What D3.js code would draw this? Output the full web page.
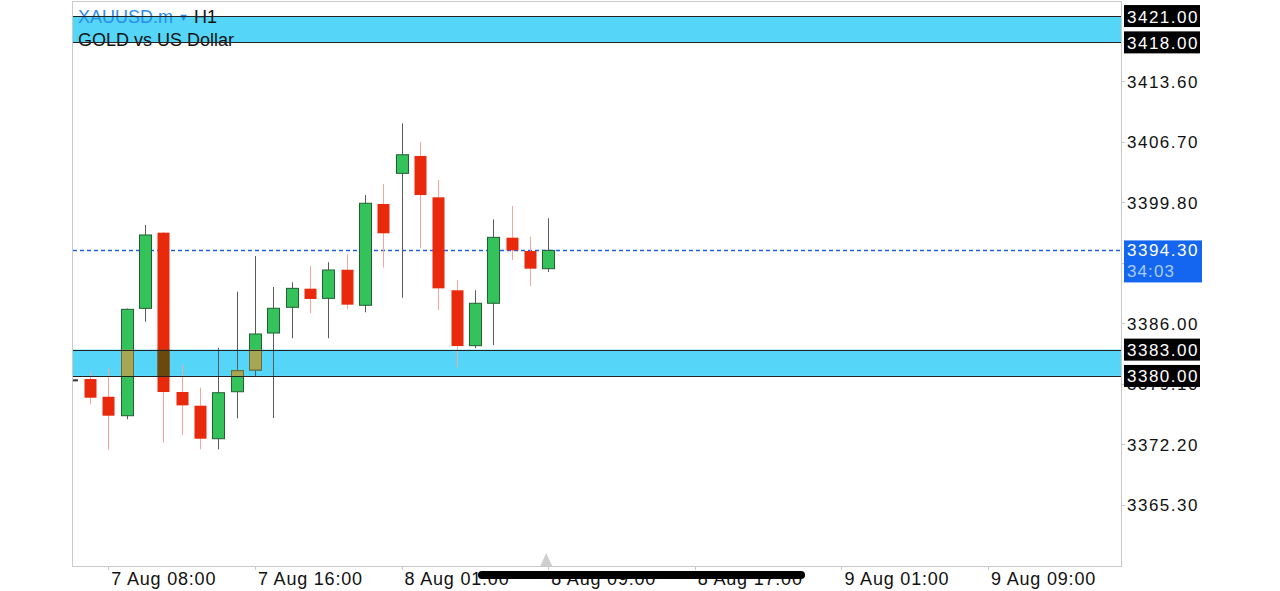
<!DOCTYPE html>
<html><head><meta charset="utf-8">
<script src="https://cdn.jsdelivr.net/npm/d3@7"></script>
<style>
html,body{margin:0;padding:0;background:#fff;}
svg text{font-family:"Liberation Sans",Arial,Helvetica,sans-serif;}
</style></head>
<body><svg id="c" width="1280" height="591"></svg>
<script>
// ---- data ----
const times = ["7 Aug 07:00","7 Aug 08:00","7 Aug 09:00","7 Aug 10:00","7 Aug 11:00","7 Aug 12:00","7 Aug 13:00","7 Aug 14:00","7 Aug 15:00","7 Aug 16:00","7 Aug 17:00","7 Aug 18:00","7 Aug 19:00","7 Aug 20:00","7 Aug 21:00","7 Aug 22:00","7 Aug 23:00","8 Aug 01:00","8 Aug 02:00","8 Aug 03:00","8 Aug 04:00","8 Aug 05:00","8 Aug 06:00","8 Aug 07:00","8 Aug 08:00","8 Aug 09:00"];
const open  = [3379.65,3377.63,3375.47,3387.70,3396.32,3378.17,3376.61,3372.85,3378.20,3380.68,3384.89,3387.82,3389.94,3388.84,3392.10,3388.05,3399.59,3403.08,3405.06,3400.35,3389.76,3383.45,3388.28,3395.75,3394.23,3392.22];
const high  = [3380.48,3380.87,3387.68,3397.20,3396.40,3381.25,3378.66,3383.22,3389.60,3393.66,3390.13,3390.67,3392.56,3392.95,3393.89,3400.61,3401.87,3408.78,3406.68,3402.32,3390.93,3389.76,3397.84,3399.36,3395.86,3397.96];
const low   = [3376.77,3371.56,3375.06,3386.18,3372.40,3373.27,3371.64,3371.64,3375.17,3380.00,3375.21,3384.29,3387.14,3384.29,3387.59,3387.25,3392.33,3388.91,3394.54,3387.51,3380.98,3383.15,3383.52,3393.21,3390.25,3391.84];
const close = [3377.52,3375.47,3387.59,3396.06,3378.17,3376.65,3372.85,3378.09,3380.60,3384.78,3387.71,3389.98,3388.77,3392.07,3388.12,3399.67,3396.25,3405.20,3400.61,3389.98,3383.41,3388.28,3395.79,3394.31,3392.22,3394.30];
const yTicks = [3413.60,3406.70,3399.80,3392.90,3386.00,3379.10,3372.20,3365.30];
const xTickLabels = ["7 Aug 08:00","7 Aug 16:00","8 Aug 01:00","8 Aug 09:00","8 Aug 17:00","9 Aug 01:00","9 Aug 09:00"];
const xTickIndex = [1,9,17,25,33,41,49];
const zones = [[3421.00,3418.00],[3383.00,3380.00]];
const currentPrice = 3394.30;
const timer = "34:03";
const symbol = "XAUUSD.m", timeframe = "H1", description = "GOLD vs US Dollar";

// ---- layout ----
const L=72, R=1121, T=1, B=566;
const svg = d3.select("#c");
const x = d3.scaleLinear().domain([-0.982, 56.25]).range([L, R]);
const y = d3.scaleLinear().domain([3358.35, 3422.6]).range([B, 2]);
const bw = 12;
const UP="#33c35a", UPL="#245f34", DN="#e8290c", UPW="#5b5b5b", DNW="#f4a89c";
const ZONE="#55d6f8", UPZ="#a6a655", DNZ="#6a4a0c";

const data = times.map((t,i)=>({t,i,o:open[i],h:high[i],l:low[i],c:close[i]}));

// frame
svg.append("rect").attr("x",L+0.5).attr("y",T+0.5).attr("width",R-L).attr("height",B-T)
  .attr("fill","#fff").attr("stroke","#c9c9c9");

// zones
svg.selectAll(".zone").data(zones).enter().append("rect")
  .attr("x",L+1).attr("width",R-L-1)
  .attr("y",d=>y(d[0])).attr("height",d=>y(d[1])-y(d[0]))
  .attr("fill",ZONE);

// clip for zone overlap
const defs = svg.append("defs");
const cp = defs.append("clipPath").attr("id","zclip");
cp.selectAll("rect").data(zones).enter().append("rect")
  .attr("x",L).attr("width",R-L)
  .attr("y",d=>y(d[0])).attr("height",d=>y(d[1])-y(d[0]));

// current price dashed line
svg.append("line").attr("x1",L+1).attr("x2",R).attr("y1",Math.round(y(currentPrice))+0.5).attr("y2",Math.round(y(currentPrice))+0.5)
  .attr("stroke","#1f5fe6").attr("stroke-width",1.3).attr("stroke-dasharray","4,3");

// wicks
svg.selectAll(".wick").data(data).enter().append("line")
  .attr("x1",d=>Math.round(x(d.i))+0.5).attr("x2",d=>Math.round(x(d.i))+0.5)
  .attr("y1",d=>y(d.h)).attr("y2",d=>y(d.l))
  .attr("stroke",d=>d.c>=d.o?UPW:DNW).attr("stroke-width",1);

// bodies
function bodies(g, fillUp, fillDn, strokeUp){
  g.selectAll("rect").data(data).enter().append("rect")
   .attr("x",d=>Math.round(x(d.i))-bw/2+0.5)
   .attr("width",bw)
   .attr("y",d=>y(Math.max(d.o,d.c)))
   .attr("height",d=>Math.max(1,Math.abs(y(d.o)-y(d.c))))
   .attr("fill",d=>d.c>=d.o?fillUp:fillDn)
   .attr("stroke",d=>d.c>=d.o?strokeUp:"none").attr("stroke-width",1);
}
bodies(svg.append("g"), UP, DN, UPL);
bodies(svg.append("g").attr("clip-path","url(#zclip)"), UPZ, DNZ, "#6f6a3a");

// zone edge lines
zones.forEach(z=>{
  z.forEach(v=>{
    svg.append("line").attr("x1",L+1).attr("x2",R).attr("y1",Math.round(y(v))+0.5).attr("y2",Math.round(y(v))+0.5)
      .attr("stroke","#222").attr("stroke-width",1);
  });
});

// small left marker
svg.append("line").attr("x1",73).attr("x2",78).attr("y1",y(3379.5)).attr("y2",y(3379.5)).attr("stroke","#333").attr("stroke-width",2);

// y axis (labels hidden fully behind price boxes are not drawn)
const hidden = v => Math.abs(y(v)-y(currentPrice)) < 14;
const yAxisG = svg.append("g");
yAxisG.selectAll("line").data(yTicks).enter().append("line")
  .attr("x1",R).attr("x2",R+4).attr("y1",d=>Math.round(y(d))+0.5).attr("y2",d=>Math.round(y(d))+0.5)
  .attr("stroke","#c9c9c9");
yAxisG.selectAll("text").data(yTicks.filter(v=>!hidden(v))).enter().append("text")
  .attr("x",1127).attr("y",d=>y(d)+6.5)
  .attr("font-size",17).attr("letter-spacing",1.5).attr("fill","#111")
  .text(d=>d.toFixed(2));

// x axis
const xAxisG = svg.append("g");
xAxisG.selectAll("line").data(xTickIndex).enter().append("line")
  .attr("x1",d=>Math.round(x(d))+0.5).attr("x2",d=>Math.round(x(d))+0.5).attr("y1",B).attr("y2",B+4)
  .attr("stroke","#c9c9c9");
xAxisG.selectAll("text").data(xTickIndex).enter().append("text")
  .attr("x",d=>x(d)+3).attr("y",585)
  .attr("font-size",18).attr("letter-spacing",0.8).attr("fill","#111")
  .text((d,i)=>xTickLabels[i]);

// shift triangle
const tx = x(25)-2;
svg.append("path").attr("d",`M${tx-6},${B} L${tx},${B-13} L${tx+6},${B} Z`).attr("fill","#cfcfcf");

// zone price labels
zones.flat().forEach(v=>{
  const yy = y(v);
  svg.append("rect").attr("x",1124).attr("y",yy-11).attr("width",76).attr("height",22).attr("fill","#000");
  svg.append("text").attr("x",1127).attr("y",yy+6.5).attr("font-size",17).attr("letter-spacing",1.5)
    .attr("fill","#fff").text(v.toFixed(2));
});

// current price label
const cy = y(currentPrice);
svg.append("rect").attr("x",1124).attr("y",cy-10).attr("width",78).attr("height",42).attr("fill","#1466f0");
svg.append("text").attr("x",1127).attr("y",cy+6).attr("font-size",17).attr("letter-spacing",1.5).attr("fill","#fff").text(currentPrice.toFixed(2));
svg.append("text").attr("x",1127).attr("y",cy+27).attr("font-size",17).attr("letter-spacing",1.1).attr("fill","#a9cbff").text(timer);

// title
const t1 = svg.append("text").attr("x",78).attr("y",23).attr("font-size",18);
t1.append("tspan").attr("fill","#2a8cf0").text(symbol);
t1.append("tspan").attr("fill","#2a8cf0").attr("font-size",11).attr("dx",5).attr("dy",-2).text("▼");
t1.append("tspan").attr("fill","#111").attr("dx",5).attr("dy",2).text(timeframe);
svg.append("text").attr("x",78).attr("y",46).attr("font-size",18).attr("fill","#111").text(description);

// redraw zone lines over the title (they strike through the text)
[zones[0][0],zones[0][1]].forEach(v=>{
  svg.append("line").attr("x1",L+1).attr("x2",R).attr("y1",Math.round(y(v))+0.5).attr("y2",Math.round(y(v))+0.5)
    .attr("stroke","#222").attr("stroke-width",1);
});

// home indicator overlay
svg.append("rect").attr("x",478).attr("y",571).attr("width",327).attr("height",8).attr("rx",4).attr("fill","#000");
</script></body></html>
